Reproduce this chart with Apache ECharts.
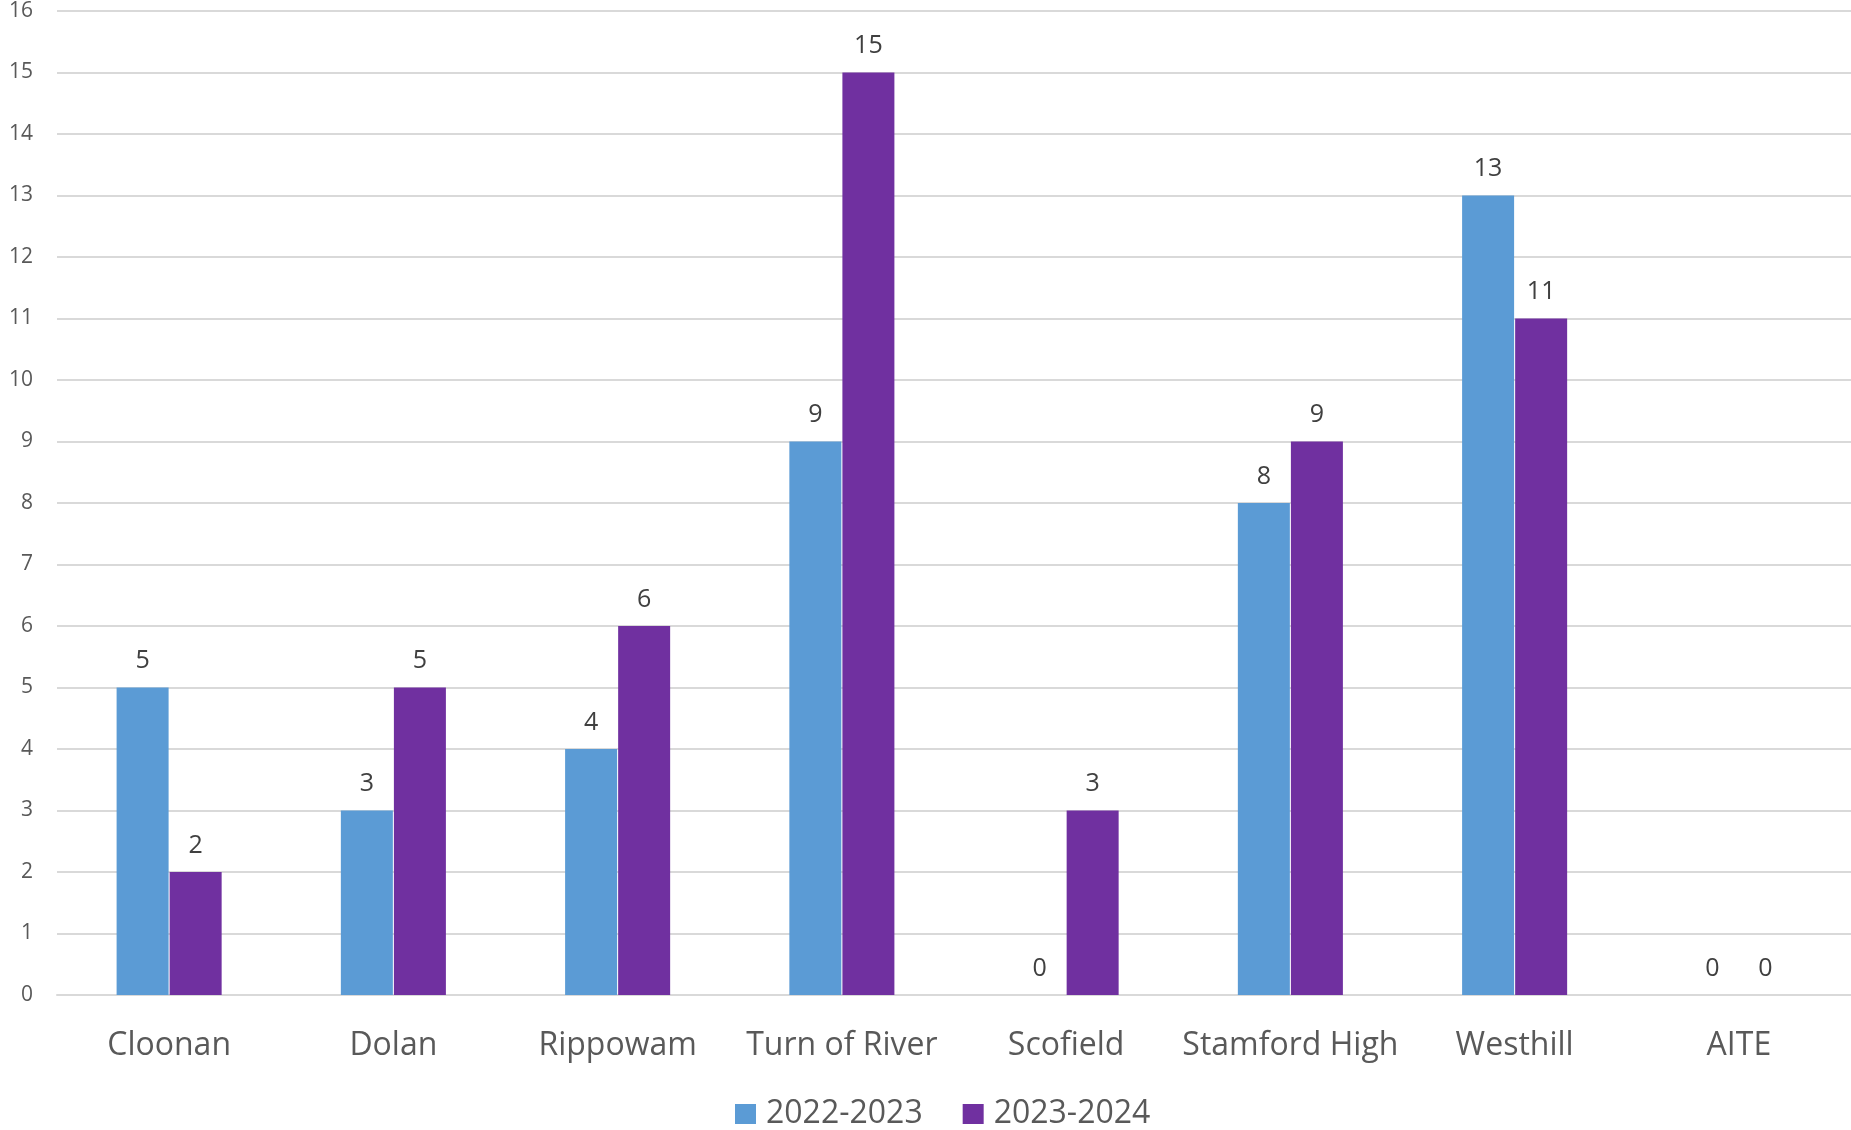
<!DOCTYPE html>
<html><head><meta charset="utf-8">
<script src="https://cdn.jsdelivr.net/npm/echarts@6/dist/echarts.min.js"></script>
<style>html,body{margin:0;padding:0;background:#fff}#c{width:1851px;height:1130px}</style>
</head><body><div id="c"></div>
<script>
const categories = ['Cloonan','Dolan','Rippowam','Turn of River','Scofield','Stamford High','Westhill','AITE'];
const seriesNames = ['2022-2023','2023-2024'];
const values2022 = [5,3,4,9,0,8,13,0];
const values2023 = [2,5,6,15,3,9,11,0];
const colors = ['#5B9BD5','#7030A0'];
const font = '"Open Sans", "Noto Sans", sans-serif';
const chart = echarts.init(document.getElementById('c'));
const mk = (name, data, color) => ({
  name, type:'bar', data, barWidth:52, barGap:'2%',
  itemStyle:{color},
  label:{show:true, position:'top', distance:14, color:'#404040', fontSize:25, fontFamily:font}
});
chart.setOption({
  animation:false,
  grid:{left:57, right:0, top:11, bottom:135, containLabel:false},
  legend:{top:1093, left:730, itemWidth:21, itemHeight:20, itemGap:40,
    icon:'rect', textStyle:{fontSize:32, color:'#595959', fontFamily:font, padding:[0,0,0,5]},
    data:seriesNames},
  xAxis:{type:'category', data:categories,
    axisLine:{lineStyle:{color:'#d9d9d9', width:2}}, axisTick:{show:false},
    axisLabel:{interval:0, fontSize:32, color:'#595959', fontFamily:font, margin:35}},
  yAxis:{type:'value', min:0, max:16, interval:1,
    axisLine:{show:false}, axisTick:{show:false},
    splitLine:{lineStyle:{color:'#d9d9d9', width:2}},
    axisLabel:{fontSize:21, color:'#595959', fontFamily:font, margin:24}},
  series:[mk(seriesNames[0], values2022, colors[0]), mk(seriesNames[1], values2023, colors[1])]
});
</script></body></html>
